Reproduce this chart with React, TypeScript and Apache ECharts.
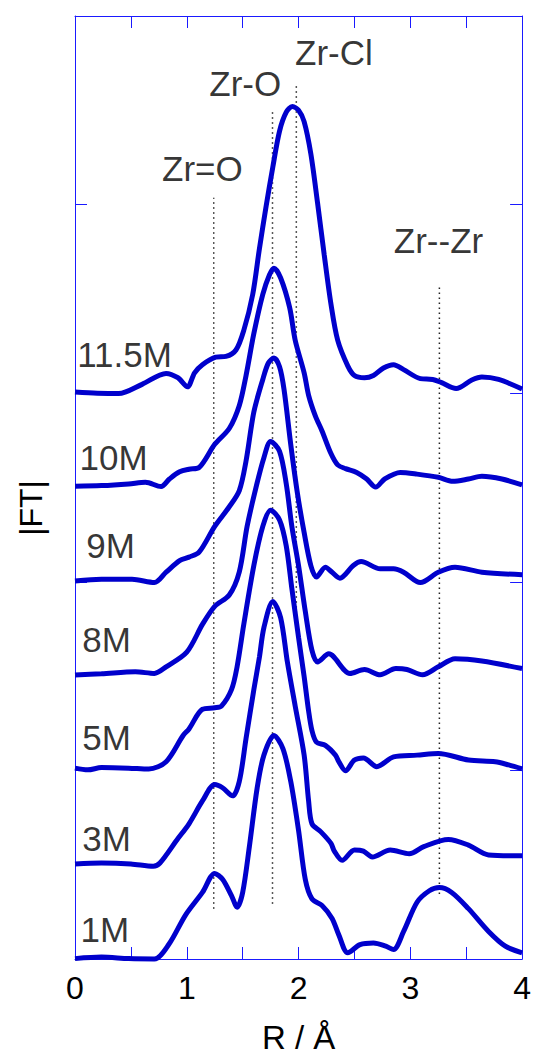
import React, { useEffect, useRef } from "react";
import * as echarts from "echarts";

// R (Å) vs |FT| (stacked, offset included) for each concentration
const curve11_5M: [number, number][] = [
  [0, 3.006], [0.2, 3.0], [0.39, 2.998], [0.6, 3.047], [0.815, 3.105], [0.92, 3.082], [1.006, 3.034],
  [1.07, 3.108], [1.14, 3.151], [1.26, 3.191], [1.35, 3.195], [1.44, 3.229], [1.51, 3.333], [1.59, 3.524],
  [1.65, 3.767], [1.71, 3.992], [1.77, 4.2], [1.83, 4.39], [1.89, 4.49], [1.945, 4.52], [2.0, 4.5],
  [2.05, 4.44], [2.11, 4.269], [2.17, 4.009], [2.23, 3.732], [2.29, 3.472], [2.35, 3.281], [2.44, 3.145],
  [2.5, 3.094], [2.59, 3.082], [2.67, 3.094], [2.76, 3.134], [2.85, 3.151], [2.94, 3.125], [3.09, 3.077],
  [3.2, 3.073], [3.28, 3.056], [3.41, 3.025], [3.55, 3.07], [3.64, 3.086], [3.79, 3.073], [4.0, 3.022],
];
const curve10M: [number, number][] = [
  [0, 2.507], [0.237, 2.51], [0.48, 2.519], [0.63, 2.528], [0.77, 2.505], [0.845, 2.545], [0.936, 2.583],
  [1.02, 2.597], [1.11, 2.606], [1.25, 2.729], [1.38, 2.813], [1.47, 2.935], [1.53, 3.093], [1.6, 3.316],
  [1.68, 3.524], [1.74, 3.628], [1.78, 3.663], [1.84, 3.611], [1.92, 3.455], [1.97, 3.281], [2.05, 3.108],
  [2.09, 2.989], [2.15, 2.88], [2.21, 2.8], [2.29, 2.68], [2.35, 2.62], [2.42, 2.6], [2.52, 2.58],
  [2.61, 2.545], [2.69, 2.502], [2.77, 2.545], [2.91, 2.58], [3.06, 2.571], [3.25, 2.554], [3.38, 2.533],
  [3.52, 2.545], [3.64, 2.559], [3.82, 2.545], [4.0, 2.514],
];
const curve9M: [number, number][] = [
  [0, 2.004], [0.237, 2.013], [0.51, 2.013], [0.71, 1.996], [0.815, 2.051], [0.936, 2.112], [1.02, 2.131],
  [1.11, 2.157], [1.25, 2.294], [1.38, 2.398], [1.47, 2.484], [1.53, 2.64], [1.6, 2.9], [1.68, 3.073],
  [1.73, 3.16], [1.78, 3.186], [1.83, 3.14], [1.87, 3.02], [1.93, 2.729], [1.99, 2.469], [2.05, 2.261],
  [2.11, 2.086], [2.16, 2.025], [2.24, 2.077], [2.3, 2.05], [2.37, 2.019], [2.49, 2.086], [2.56, 2.107],
  [2.73, 2.069], [2.85, 2.069], [2.94, 2.051], [3.09, 1.996], [3.25, 2.051], [3.4, 2.077], [3.64, 2.051],
  [4.0, 2.037],
];
const curve8M: [number, number][] = [
  [0, 1.506], [0.237, 1.512], [0.54, 1.523], [0.71, 1.514], [0.815, 1.549], [1.0, 1.627], [1.14, 1.774],
  [1.25, 1.87], [1.38, 1.93], [1.47, 2.053], [1.54, 2.294], [1.62, 2.502], [1.69, 2.658], [1.75, 2.744],
  [1.83, 2.692], [1.89, 2.519], [1.94, 2.294], [2.0, 2.086], [2.06, 1.844], [2.12, 1.636], [2.17, 1.575],
  [2.27, 1.618], [2.46, 1.514], [2.59, 1.535], [2.73, 1.507], [2.87, 1.54], [2.97, 1.535], [3.11, 1.507],
  [3.25, 1.549], [3.4, 1.592], [3.64, 1.58], [4.0, 1.54],
];
const curve5M: [number, number][] = [
  [0, 1.012], [0.115, 1.003], [0.237, 1.015], [0.48, 1.012], [0.66, 1.007], [0.815, 1.046], [0.967, 1.185],
  [1.02, 1.22], [1.14, 1.324], [1.25, 1.332], [1.31, 1.341], [1.4, 1.428], [1.45, 1.549], [1.51, 1.774],
  [1.6, 2.086], [1.68, 2.294], [1.75, 2.38], [1.83, 2.328], [1.89, 2.19], [1.94, 1.965], [2.0, 1.705],
  [2.05, 1.497], [2.09, 1.315], [2.12, 1.211], [2.16, 1.15], [2.24, 1.133], [2.33, 1.081], [2.36, 1.046],
  [2.42, 0.998], [2.5, 1.055], [2.58, 1.066], [2.7, 1.02], [2.85, 1.072], [3.06, 1.081], [3.25, 1.09],
  [3.52, 1.055], [3.76, 1.046], [3.88, 1.029], [4.0, 1.008],
];
const curve3M: [number, number][] = [
  [0, 0.504], [0.237, 0.509], [0.5, 0.504], [0.7, 0.492], [0.76, 0.509], [0.91, 0.63], [1.02, 0.717],
  [1.14, 0.838], [1.25, 0.925], [1.32, 0.908], [1.41, 0.865], [1.47, 0.942], [1.53, 1.168], [1.6, 1.428],
  [1.65, 1.601], [1.69, 1.757], [1.77, 1.896], [1.84, 1.809], [1.9, 1.575], [1.97, 1.341], [2.05, 1.081],
  [2.09, 0.838], [2.12, 0.717], [2.2, 0.674], [2.29, 0.613], [2.32, 0.572], [2.39, 0.523], [2.5, 0.578],
  [2.58, 0.572], [2.66, 0.541], [2.82, 0.578], [2.99, 0.558], [3.12, 0.596], [3.34, 0.634], [3.52, 0.604],
  [3.7, 0.552], [4.0, 0.547],
];
const curve1M: [number, number][] = [
  [0, 0.002], [0.237, 0.01], [0.48, 0.002], [0.71, 0.0], [0.84, 0.078], [0.99, 0.234], [1.14, 0.353],
  [1.25, 0.454], [1.32, 0.423], [1.4, 0.336], [1.45, 0.275], [1.5, 0.353], [1.56, 0.596], [1.63, 0.908],
  [1.69, 1.081], [1.78, 1.185], [1.86, 1.116], [1.93, 0.942], [2.0, 0.682], [2.06, 0.423], [2.12, 0.319],
  [2.21, 0.284], [2.3, 0.215], [2.36, 0.128], [2.44, 0.033], [2.55, 0.076], [2.67, 0.085], [2.78, 0.068],
  [2.85, 0.05], [2.94, 0.146], [3.06, 0.301], [3.17, 0.362], [3.26, 0.379], [3.37, 0.353], [3.52, 0.267],
  [3.7, 0.146], [3.85, 0.068], [4.0, 0.033],
];

const curveNames = ["11.5M", "10M", "9M", "8M", "5M", "3M", "1M"];
const curves = [curve11_5M, curve10M, curve9M, curve8M, curve5M, curve3M, curve1M];
// label anchor (R, |FT|) for each curve name
const curveLabelAt: [number, number][] = [
  [0.02, 3.207], [0.04, 2.661], [0.1, 2.193], [0.065, 1.694], [0.065, 1.175], [0.065, 0.639], [0.05, 0.156],
];

// assignment lines
const peakNames = ["Zr=O", "Zr-O", "Zr-Cl", "Zr--Zr"];
const peakR = [1.241, 1.767, 1.98, 3.26];
const peakLineTop = [4.036, 4.496, 4.641, 3.576];
const peakLineBottom = [0.267, 0.293, 1.757, 0.345];
const peakLabelAt: [number, number][] = [[1.14, 4.194], [1.523, 4.641], [2.316, 4.808], [3.252, 3.81]];

const xMin = 0, xMax = 4, xStep = 0.5;
const yMin = 0, yMax = 5, yStep = 1;

const FONT = "'Liberation Sans', Arial, Helvetica, sans-serif";
const LINE_BLUE = "#0000cc";
const FRAME_BLUE = "#1a1aff";

export default function App() {
  const ref = useRef<HTMLDivElement>(null);
  useEffect(() => {
    if (!ref.current) return;
    const chart = echarts.init(ref.current, undefined, { renderer: "svg" });
    const axisCommon = {
      type: "value" as const,
      axisLine: { show: true, onZero: false, lineStyle: { color: FRAME_BLUE, width: 1 } },
      axisTick: { show: true, inside: true, length: 12, lineStyle: { color: FRAME_BLUE, width: 1 } },
      splitLine: { show: false },
    };
    const series: any[] = [];
    curves.forEach((c, i) => {
      series.push({
        type: "line",
        name: curveNames[i],
        data: c,
        symbol: "none",
        smooth: 0.3,
        clip: false,
        lineStyle: { color: LINE_BLUE, width: 5 },
        z: 3,
      });
    });
    peakR.forEach((r, i) => {
      series.push({
        type: "line",
        data: [[r, peakLineBottom[i]], [r, peakLineTop[i]]],
        symbol: "none",
        lineStyle: { color: "#222", width: 1.5, type: [1.5, 3.5] },
        z: 2,
        silent: true,
      });
    });
    const labelStyle = { show: true, position: [0, 0], verticalAlign: "middle", formatter: (p: any) => p.name, fontSize: 35, color: "#000", fontFamily: FONT };
    series.push({
      type: "scatter",
      symbolSize: 0,
      data: curveLabelAt.map((p, i) => ({ value: p, name: curveNames[i] })),
      label: { ...labelStyle, align: "left" },
      z: 4,
      silent: true,
    });
    series.push({
      type: "scatter",
      symbolSize: 0,
      data: peakLabelAt.map((p, i) => ({ value: p, name: peakNames[i] })),
      label: { ...labelStyle, align: "center" },
      z: 4,
      silent: true,
    });
    chart.setOption({
      animation: false,
      backgroundColor: "#fff",
      grid: { left: 75, right: 10, top: 16, bottom: 81, containLabel: false },
      xAxis: [
        {
          ...axisCommon,
          position: "bottom",
          min: xMin,
          max: xMax,
          interval: xStep,
          axisLabel: {
            show: true,
            margin: 13,
            fontSize: 32,
            color: "#000",
            fontFamily: FONT,
            formatter: (v: number) => (Number.isInteger(v) ? String(v) : ""),
          },
          name: "R / Å",
          nameLocation: "middle",
          nameGap: 62,
          nameTextStyle: { fontSize: 33, color: "#000", fontFamily: FONT },
        },
        {
          ...axisCommon,
          position: "top",
          min: xMin,
          max: xMax,
          interval: xStep,
          axisLabel: { show: false },
        },
      ],
      yAxis: [
        { ...axisCommon, position: "left", min: yMin, max: yMax, interval: yStep, axisLabel: { show: false } },
        { ...axisCommon, position: "right", min: yMin, max: yMax, interval: yStep, axisLabel: { show: false } },
      ],
      graphic: [
        {
          type: "text",
          x: 31,
          y: 508,
          rotation: Math.PI / 2,
          style: {
            text: "|FT|",
            fontSize: 32,
            fill: "#000",
            fontFamily: FONT,
            align: "center",
            verticalAlign: "middle",
          },
        },
      ],
      series,
    });
    return () => chart.dispose();
  }, []);
  return (
    <div
      ref={ref}
      style={{ position: "fixed", left: 0, top: 0, width: 534, height: 1059, background: "#fff" }}
    />
  );
}
